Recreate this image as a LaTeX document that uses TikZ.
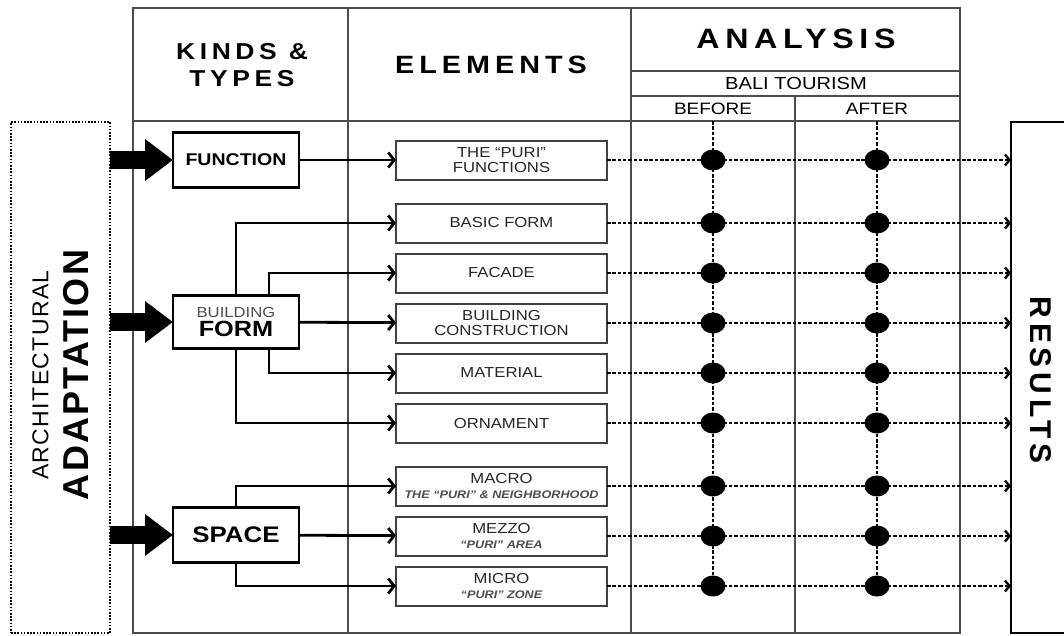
\documentclass[tikz,border=0pt]{standalone}
\usepackage{fontspec}
\setmainfont{Liberation Sans}[FakeStretch=1.15]
\newfontfamily\headfont{Liberation Sans}[FakeStretch=1.15, LetterSpace=20]
\newfontfamily\sidefont{Liberation Sans}[LetterSpace=6]
\newfontfamily\resfont{Liberation Sans}[LetterSpace=16]
\usetikzlibrary{positioning, arrows.meta}
\newcommand\subtxt[1]{{\fontsize{11}{12}\selectfont\bfseries\itshape\color{black!70}#1}}

\begin{document}
\begin{tikzpicture}[x=1pt, y=-1pt, node distance=11pt,
	kind/.style={draw, line width=2.8pt, minimum width=126pt, minimum height=55pt, inner sep=0pt, outer sep=0pt},
	elem/.style={draw=black!75, line width=2pt, minimum width=211pt, minimum height=39pt, inner sep=0pt, outer sep=0pt, align=center, text=black!85, font=\fontsize{14.5}{15.5}\selectfont},
	conn/.style={line width=2.8pt, -{Straight Barb[length=6pt, width=15pt]}},
	fat/.style={line width=18pt, -{Triangle[length=28pt, width=40pt]}},
	dline/.style={line width=2.4pt, dash pattern=on 3.5pt off 1.8pt},
	grid/.style={line width=1.6pt, black!70}]
	\useasboundingbox (0,0) rectangle (1064,635);
	% table
	\draw[grid] (133,8) rectangle (960,633);
	\draw[grid] (133,121) -- (960,121) (348,8) -- (348,633) (631,8) -- (631,633)
		(631,71) -- (960,71) (631,96) -- (960,96) (795,96) -- (795,633);
	\node[font=\headfont\fontsize{23}{27}\selectfont\bfseries, align=center] (kt) at (242,65.5) {KINDS \&\\TYPES};
	\node[font=\headfont\fontsize{25}{27}\selectfont\bfseries] (elh) at (491,64.5) {ELEMENTS};
	\node[font=\headfont\fontsize{28}{30}\selectfont\bfseries] (anh) at (796,39) {ANALYSIS};
	\node[font=\fontsize{17.5}{20}\selectfont] (bali) at (796,83) {BALI TOURISM};
	\node[font=\fontsize{16.5}{20}\selectfont] (bef) at (713,109) {BEFORE};
	\node[font=\fontsize{16.5}{20}\selectfont] (aft) at (877,109) {AFTER};
	% sides
	\node[draw, line width=1.8pt, dash pattern=on 1.6pt off 1.6pt, minimum width=99pt, minimum height=511pt, outer sep=0pt] (adapt) at (60.5,377.5) {};
	\node[rotate=90, font=\sidefont\fontsize{23}{25}\selectfont] (arch) at (40.5,375) {ARCHITECTURAL};
	\node[rotate=90, font=\sidefont\bfseries\fontsize{36}{40}\selectfont] (adtxt) at (76,375) {ADAPTATION};
	\node[draw, line width=1.8pt, minimum width=80pt, minimum height=511pt, anchor=north west, outer sep=0pt] (res) at (1011,122) {};
	\node[rotate=-90, font=\resfont\bfseries\fontsize{30}{32}\selectfont] (restxt) at (1041,380) {RESULTS};
	% kinds
	\node[kind, font=\bfseries\fontsize{17}{20}\selectfont] (func) at (236,160) {FUNCTION};
	\node[kind, minimum height=53pt, align=center, font=\fontsize{14.5}{19}\selectfont] (form) at (236,322) {{\color{black!70}BUILDING}\\{\bfseries\fontsize{22}{20}\selectfont FORM}};
	\node[kind, font=\bfseries\fontsize{22.5}{24}\selectfont] (space) at (236,535) {SPACE};
	\foreach \k in {func, form, space}
		\draw[fat] (adapt.east |- \k) -- (\k.west);
	% elements
	\node[elem] (puri) at (501.5,160) {THE “PURI”\\FUNCTIONS};
	\node[elem, below=24pt of puri] (basic) {BASIC FORM};
	\node[elem, below=of basic] (facade) {FACADE};
	\node[elem, below=of facade] (constr) {BUILDING\\CONSTRUCTION};
	\node[elem, below=of constr] (mater) {MATERIAL};
	\node[elem, below=of mater] (orna) {ORNAMENT};
	\node[elem, below=24pt of orna] (macro) {MACRO\\\subtxt{THE “PURI” \& NEIGHBORHOOD}};
	\node[elem, below=of macro] (mezzo) {MEZZO\\\subtxt{“PURI” AREA}};
	\node[elem, below=of mezzo] (micro) {MICRO\\\subtxt{“PURI” ZONE}};
	\draw[conn] (func) -- (puri);
	\draw[conn] (form.north) |- (basic.west);
	\draw[conn] ([xshift=33pt]form.north) |- (facade.west);
	\draw[conn] (form) -- (constr);
	\draw[conn] ([xshift=33pt]form.south) |- (mater.west);
	\draw[conn] (form.south) |- (orna.west);
	\draw[conn] (space.north) |- (macro.west);
	\draw[conn] (space) -- (mezzo);
	\draw[conn] (space.south) |- (micro.west);
	% analysis
	\coordinate (b0) at (713,121);
	\coordinate (a0) at (877,121);
	\draw[dline] (b0) -- (b0 |- micro);
	\draw[dline] (a0) -- (a0 |- micro);
	\foreach \e in {puri,basic,facade,constr,mater,orna,macro,mezzo,micro} {
		\draw[dline, -{Straight Barb[length=4.5pt, width=11pt]}] (\e.east) -- (\e.east -| res.west);
		\fill (\e.east -| b0) ellipse [x radius=12.5pt, y radius=10.5pt];
		\fill (\e.east -| a0) ellipse [x radius=12.5pt, y radius=10.5pt];
	}
\end{tikzpicture}
\end{document}
